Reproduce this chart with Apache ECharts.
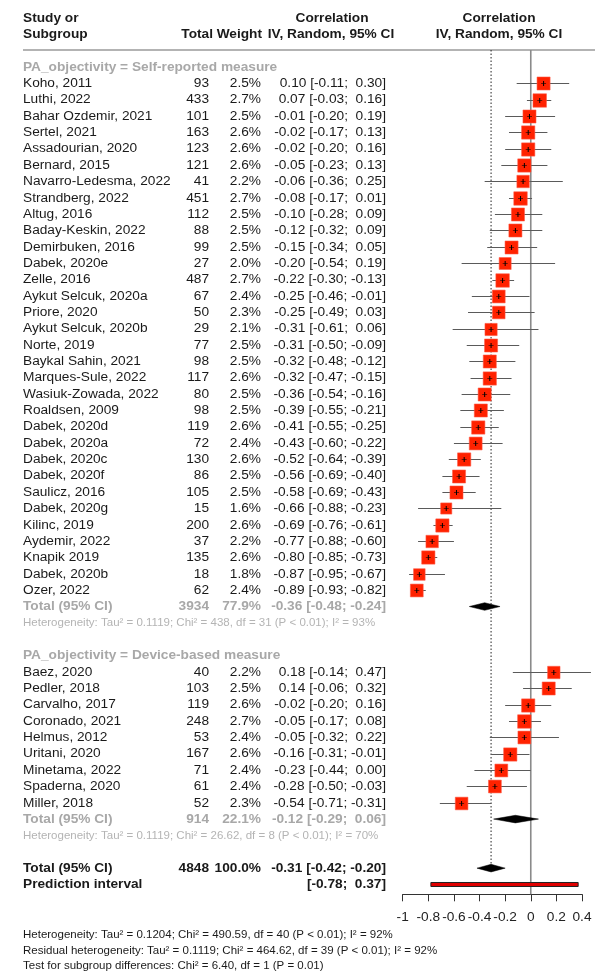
<!DOCTYPE html>
<html><head><meta charset="utf-8">
<script src="https://cdn.jsdelivr.net/npm/echarts@6/dist/echarts.min.js"></script>
<style>html,body{margin:0;padding:0;background:#fff}#c{width:595px;height:972px}</style>
</head><body><div id="c"></div>
<script>
// ---------------- DATA ----------------
const selfStudies = ["Koho, 2011","Luthi, 2022","Bahar Ozdemir, 2021","Sertel, 2021","Assadourian, 2020","Bernard, 2015","Navarro-Ledesma, 2022","Strandberg, 2022","Altug, 2016","Baday-Keskin, 2022","Demirbuken, 2016","Dabek, 2020e","Zelle, 2016","Aykut Selcuk, 2020a","Priore, 2020","Aykut Selcuk, 2020b","Norte, 2019","Baykal Sahin, 2021","Marques-Sule, 2022","Wasiuk-Zowada, 2022","Roaldsen, 2009","Dabek, 2020d","Dabek, 2020a","Dabek, 2020c","Dabek, 2020f","Saulicz, 2016","Dabek, 2020g","Kilinc, 2019","Aydemir, 2022","Knapik 2019","Dabek, 2020b","Ozer, 2022"];
const selfTotal = [93,433,101,163,123,121,41,451,112,88,99,27,487,67,50,29,77,98,117,80,98,119,72,130,86,105,15,200,37,135,18,62];
const selfWeight = [2.5,2.7,2.5,2.6,2.6,2.6,2.2,2.7,2.5,2.5,2.5,2.0,2.7,2.4,2.3,2.1,2.5,2.5,2.6,2.5,2.5,2.6,2.4,2.6,2.5,2.5,1.6,2.6,2.2,2.6,1.8,2.4];
const selfEst = [0.10,0.07,-0.01,-0.02,-0.02,-0.05,-0.06,-0.08,-0.10,-0.12,-0.15,-0.20,-0.22,-0.25,-0.25,-0.31,-0.31,-0.32,-0.32,-0.36,-0.39,-0.41,-0.43,-0.52,-0.56,-0.58,-0.66,-0.69,-0.77,-0.80,-0.87,-0.89];
const selfLo = [-0.11,-0.03,-0.20,-0.17,-0.20,-0.23,-0.36,-0.17,-0.28,-0.32,-0.34,-0.54,-0.30,-0.46,-0.49,-0.61,-0.50,-0.48,-0.47,-0.54,-0.55,-0.55,-0.60,-0.64,-0.69,-0.69,-0.88,-0.76,-0.88,-0.85,-0.95,-0.93];
const selfHi = [0.30,0.16,0.19,0.13,0.16,0.13,0.25,0.01,0.09,0.09,0.05,0.19,-0.13,-0.01,0.03,0.06,-0.09,-0.12,-0.15,-0.16,-0.21,-0.25,-0.22,-0.39,-0.40,-0.43,-0.23,-0.61,-0.60,-0.73,-0.67,-0.82];

const devStudies = ["Baez, 2020","Pedler, 2018","Carvalho, 2017","Coronado, 2021","Helmus, 2012","Uritani, 2020","Minetama, 2022","Spaderna, 2020","Miller, 2018"];
const devTotal = [40,103,119,248,53,167,71,61,52];
const devWeight = [2.2,2.5,2.6,2.7,2.4,2.6,2.4,2.4,2.3];
const devEst = [0.18,0.14,-0.02,-0.05,-0.05,-0.16,-0.23,-0.28,-0.54];
const devLo = [-0.14,-0.06,-0.20,-0.17,-0.32,-0.31,-0.44,-0.50,-0.71];
const devHi = [0.47,0.32,0.16,0.08,0.22,-0.01,0.00,-0.03,-0.31];

const subgroupLabels = ["PA_objectivity = Self-reported measure","PA_objectivity = Device-based measure"];
const subgroupTotal = [3934, 914];
const subgroupWeight = [77.9, 22.1];
const subgroupEst = [-0.36, -0.12];
const subgroupLo = [-0.48, -0.29];
const subgroupHi = [-0.24, 0.06];
const subgroupHet = [
  "Heterogeneity: Tau\u00b2 = 0.1119; Chi\u00b2 = 438, df = 31 (P < 0.01); I\u00b2 = 93%",
  "Heterogeneity: Tau\u00b2 = 0.1119; Chi\u00b2 = 26.62, df = 8 (P < 0.01); I\u00b2 = 70%"
];
const overallTotal = 4848;
const overallWeight = 100.0;
const overallEst = -0.31;
const overallLo = -0.42;
const overallHi = -0.20;
const predLo = -0.78;
const predHi = 0.37;
const xTicks = [-1, -0.8, -0.6, -0.4, -0.2, 0, 0.2, 0.4];
const footerLines = [
  "Heterogeneity: Tau\u00b2 = 0.1204; Chi\u00b2 = 490.59, df = 40 (P < 0.01); I\u00b2 = 92%",
  "Residual heterogeneity: Tau\u00b2 = 0.1119; Chi\u00b2 = 464.62, df = 39 (P < 0.01); I\u00b2 = 92%",
  "Test for subgroup differences: Chi\u00b2 = 6.40, df = 1 (P = 0.01)"
];

// ---------------- LAYOUT ----------------
const FONT = "'Liberation Sans', Arial, Helvetica, sans-serif";
const FS = 13.7, FS_SMALL = 11.5;
const COL = {name: 23, total: 209, weight: 261, ci: 386};
const GREY = '#a8a8a8', GREY_SMALL = '#b4b4b4', BLACK = '#1a1a1a';

const selfStart = 0;
const selfTotalRow = selfStart + selfStudies.length;      // 32
const devHeaderRow = selfTotalRow + 3;                     // 35
const devStart = devHeaderRow + 1;                         // 36
const devTotalRow = devStart + devStudies.length;          // 45
const overallRow = devTotalRow + 3;                        // 48
const predRow = overallRow + 1;                            // 49

const f2 = v => v.toFixed(2);
const pad = v => (v >= 0 ? ' ' : '') + f2(v);
function ciText(est, lo, hi) {
  const ci = '[' + (lo >= 0 ? ' ' : '') + f2(lo) + '; ' + pad(hi) + ']';
  return est === null ? ci : f2(est) + ' ' + ci;
}
const textRows = [];
function studyRows(names, tot, wt, est, lo, hi, start) {
  names.forEach((n, i) => {
    textRows.push({row: start + i, weight: 'normal', color: BLACK, size: FS, cells: [
      {x: COL.name, align: 'left', text: n},
      {x: COL.total, align: 'right', text: String(tot[i])},
      {x: COL.weight, align: 'right', text: wt[i].toFixed(1) + '%'},
      {x: COL.ci, align: 'right', text: ciText(est[i], lo[i], hi[i])}
    ]});
  });
}
[[selfStart, selfTotalRow], [devStart, devTotalRow]].forEach(([start, totRow], g) => {
  textRows.push({row: start - 1, weight: 'bold', color: GREY, size: FS, cells: [{x: COL.name, align: 'left', text: subgroupLabels[g]}]});
  textRows.push({row: totRow, weight: 'bold', color: GREY, size: FS, cells: [
    {x: COL.name, align: 'left', text: 'Total (95% CI)'},
    {x: COL.total, align: 'right', text: String(subgroupTotal[g])},
    {x: COL.weight, align: 'right', text: subgroupWeight[g].toFixed(1) + '%'},
    {x: COL.ci, align: 'right', text: ciText(subgroupEst[g], subgroupLo[g], subgroupHi[g])}
  ]});
  textRows.push({row: totRow + 1, weight: 'normal', color: GREY_SMALL, size: FS_SMALL, cells: [{x: COL.name, align: 'left', text: subgroupHet[g]}]});
});
studyRows(selfStudies, selfTotal, selfWeight, selfEst, selfLo, selfHi, selfStart);
studyRows(devStudies, devTotal, devWeight, devEst, devLo, devHi, devStart);
textRows.push({row: overallRow, weight: 'bold', color: BLACK, size: FS, cells: [
  {x: COL.name, align: 'left', text: 'Total (95% CI)'},
  {x: COL.total, align: 'right', text: String(overallTotal)},
  {x: COL.weight, align: 'right', text: overallWeight.toFixed(1) + '%'},
  {x: COL.ci, align: 'right', text: ciText(overallEst, overallLo, overallHi)}
]});
textRows.push({row: predRow, weight: 'bold', color: BLACK, size: FS, cells: [
  {x: COL.name, align: 'left', text: 'Prediction interval'},
  {x: COL.ci, align: 'right', text: ciText(null, predLo, predHi)}
]});

const studyData = [];
selfStudies.forEach((n, i) => studyData.push([selfEst[i], selfLo[i], selfHi[i], selfStart + i, selfWeight[i]]));
devStudies.forEach((n, i) => studyData.push([devEst[i], devLo[i], devHi[i], devStart + i, devWeight[i]]));

const diamondData = [
  [subgroupEst[0], subgroupLo[0], subgroupHi[0], selfTotalRow],
  [subgroupEst[1], subgroupLo[1], subgroupHi[1], devTotalRow],
  [overallEst, overallLo, overallHi, overallRow]
];

const Y_MIN = -2, Y_MAX = 49.6;

function renderStudy(params, api) {
  const est = api.value(0), lo = api.value(1), hi = api.value(2), row = api.value(3), w = api.value(4);
  const c = api.coord([est, row]), l = api.coord([lo, row]), h = api.coord([hi, row]);
  const s = 7.8 + 2.1 * w;
  const y = Math.round(c[1]) + 0.5;
  return {type: 'group', children: [
    {type: 'line', shape: {x1: l[0], y1: y, x2: h[0], y2: y}, style: {stroke: '#5a5a5a', lineWidth: 1}},
    {type: 'rect', shape: {x: c[0] - s / 2, y: y - s / 2, width: s, height: s},
      style: {fill: '#ff2200', stroke: 'rgba(255,90,70,0.55)', lineWidth: 1}},
    {type: 'line', shape: {x1: c[0] - 2.5, y1: y, x2: c[0] + 2.5, y2: y}, style: {stroke: 'rgba(40,10,5,0.7)', lineWidth: 1}},
    {type: 'line', shape: {x1: c[0], y1: y - 2.5, x2: c[0], y2: y + 2.5}, style: {stroke: '#000', lineWidth: 1}}
  ]};
}
function renderDiamond(params, api) {
  const est = api.value(0), lo = api.value(1), hi = api.value(2), row = api.value(3);
  const c = api.coord([est, row]), l = api.coord([lo, row]), h = api.coord([hi, row]);
  const hh = 3.8;
  return {type: 'polygon', shape: {points: [[l[0], c[1]], [c[0], c[1] - hh], [h[0], c[1]], [c[0], c[1] + hh]]},
    style: {fill: '#000', stroke: '#000', lineWidth: 0.5}};
}
function renderTable(params, api) {
  const r = textRows[params.dataIndex];
  const y = api.coord([0, api.value(1)])[1];
  return {type: 'group', children: r.cells.map(c => ({
    type: 'text', x: c.x, y: y,
    style: {text: c.text, fill: r.color, align: c.align, verticalAlign: 'middle',
      fontFamily: FONT, fontSize: r.size, fontWeight: r.weight}
  }))};
}
const hdr = (text, x, y, align) => ({type: 'text', x: x, y: y,
  style: {text: text, font: 'bold ' + FS + 'px ' + FONT, fill: BLACK, align: align, verticalAlign: 'middle'}});

const chart = echarts.init(document.getElementById('c'), null, {renderer: 'canvas'});
chart.setOption({
  backgroundColor: '#fff',
  animation: false,
  grid: {left: 402.7, width: 179.3, top: 50.6, height: 843.7},
  xAxis: {
    type: 'value', position: 'bottom', min: xTicks[0], max: xTicks[xTicks.length - 1], interval: 0.2,
    splitLine: {show: false},
    axisLine: {show: true, onZero: false, lineStyle: {color: '#333', width: 1}},
    axisTick: {show: true, length: 7, lineStyle: {color: '#333', width: 1}},
    axisLabel: {show: true, interval: 0, margin: 16, color: '#222', fontFamily: FONT, fontSize: FS,
      showMinLabel: true, showMaxLabel: true,
      formatter: v => String(Math.round(v * 10) / 10)}
  },
  yAxis: {type: 'value', inverse: true, min: Y_MIN, max: Y_MAX, show: false},
  graphic: [
    hdr('Study or', 23, 18, 'left'),
    hdr('Subgroup', 23, 34, 'left'),
    hdr('Total', 213, 34, 'right'),
    hdr('Weight', 262, 34, 'right'),
    hdr('Correlation', 332, 18, 'center'),
    hdr('IV, Random, 95% CI', 331, 34, 'center'),
    hdr('Correlation', 499, 18, 'center'),
    hdr('IV, Random, 95% CI', 499, 34, 'center'),
    {type: 'line', shape: {x1: 23, y1: 50, x2: 595, y2: 50}, style: {stroke: '#9a9a9a', lineWidth: 1.5}},
    {type: 'text', x: 23, y: 935, style: {text: footerLines[0], font: FS_SMALL + 'px ' + FONT, fill: BLACK, verticalAlign: 'middle'}},
    {type: 'text', x: 23, y: 950.5, style: {text: footerLines[1], font: FS_SMALL + 'px ' + FONT, fill: BLACK, verticalAlign: 'middle'}},
    {type: 'text', x: 23, y: 966, style: {text: footerLines[2], font: FS_SMALL + 'px ' + FONT, fill: BLACK, verticalAlign: 'middle'}}
  ],
  series: [
    {
      type: 'custom', z: 1,
      data: [[0, Y_MIN, Y_MAX, 0], [overallEst, Y_MIN, overallRow, 1]],
      renderItem: (params, api) => {
        const t = api.coord([api.value(0), api.value(1)]), b = api.coord([api.value(0), api.value(2)]);
        const dotted = api.value(3) === 1;
        return {type: 'line', shape: {x1: t[0], y1: 50, x2: b[0], y2: b[1]},
          style: dotted ? {stroke: '#222', lineWidth: 1, lineDash: [1.5, 2]} : {stroke: '#8a8a8a', lineWidth: 1.6}};
      }
    },
    {type: 'custom', z: 3, data: studyData, renderItem: renderStudy},
    {type: 'custom', z: 3, data: diamondData, renderItem: renderDiamond},
    {
      type: 'custom', z: 3, data: [[predLo, predHi, predRow]],
      renderItem: (params, api) => {
        const l = api.coord([api.value(0), api.value(2)]), h = api.coord([api.value(1), api.value(2)]);
        return {type: 'rect', shape: {x: l[0], y: l[1] - 2, width: h[0] - l[0], height: 4},
          style: {fill: '#e00000', stroke: '#222', lineWidth: 1}};
      }
    },
    {type: 'custom', z: 4, data: textRows.map(r => [0, r.row]), renderItem: renderTable}
  ]
});
</script></body></html>
